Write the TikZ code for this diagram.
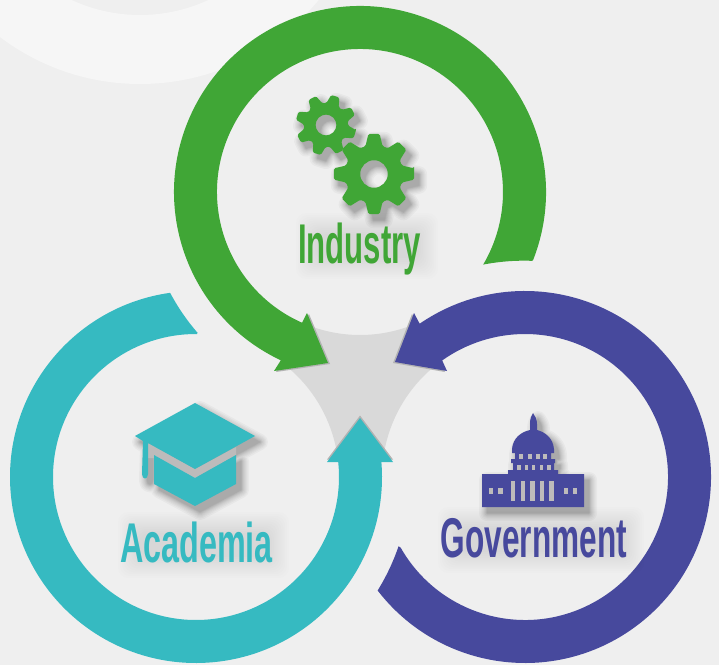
\documentclass[tikz,border=0pt]{standalone}
\usepackage{fontspec}
\setmainfont{Liberation Sans}
\newfontfamily\labI[FakeStretch=0.556]{Liberation Sans Bold}
\newfontfamily\labA[FakeStretch=0.578]{Liberation Sans Bold}
\newfontfamily\labG[FakeStretch=0.564]{Liberation Sans Bold}
\usetikzlibrary{calc}
\definecolor{bgc}{HTML}{EFEFEF}
\definecolor{bandc}{HTML}{F6F6F6}
\definecolor{greenc}{HTML}{40A636}
\definecolor{tealc}{HTML}{36BAC1}
\definecolor{bluec}{HTML}{47499D}
\definecolor{midc}{HTML}{D9D9D9}
\definecolor{edgec}{HTML}{B3B3B3}
\definecolor{winc}{HTML}{BDBBBB}
\tikzset{
  lab/.style={anchor=base,inner sep=0pt,font=\fontsize{56}{60}\selectfont},
  softshadow/.style={fill=black,draw=black,line join=round}
}
\newcommand{\softblob}[4]{%
  \foreach \g in {0,...,11}{%
    \fill[black,opacity=0.008,rounded corners=10pt]
      ({#1-10+1.9*\g},{#2-10+1.9*\g}) rectangle ({#3+10-1.9*\g},{#4+10-1.9*\g});
  }}
\newcommand{\gearp}[5]{%
  \path[#5] ($(#1,#2)+({#4+(-8)}:#3)$)
  \foreach \k in {0,...,7}{
     -- ($(#1,#2)+({#4+45*\k-8}:#3)$)
     -- ($(#1,#2)+({#4+45*\k+8}:#3)$)
     -- ($(#1,#2)+({#4+45*\k+17}:#3*0.72)$)
     -- ($(#1,#2)+({#4+45*\k+28}:#3*0.72)$)
  } -- cycle (#1,#2) circle ({#3*0.34});
}
\newcommand{\capitolp}[1]{%
  \path[#1] (482,474) -- (508,474) -- (508,470) -- (513,470) -- (513,463) -- (511,463) -- (511,459)
    -- (515,459) -- (515,453) -- (512,453) -- (512,449)
    .. controls (513,438) and (521,432) .. (530,430) -- (530,424)
    .. controls (530,419) and (531,416) .. (533,413)
    .. controls (535,416) and (537,419) .. (537,424) -- (537,430)
    .. controls (545,432) and (553,438) .. (554,449)
    -- (554,453) -- (551,453) -- (551,459) -- (555,459) -- (555,463) -- (554,463) -- (554,470)
    -- (558,470) -- (558,474) -- (584,474) -- (584,507) -- (482,507) -- cycle;
}
\newcommand{\capp}[1]{%
  \path[#1] (195,403) -- (255,436) -- (195,469) -- (148,443) -- (148,474)
     .. controls (148,480) and (142,480) .. (142,474) -- (143,441) -- (135,436) -- cycle;
  \path[#1] (154,455) -- (195,478) -- (236,455) -- (236,484) -- (195,506) -- (154,484) -- cycle;
}
\begin{document}
\begin{tikzpicture}[x=1pt,y=1pt]
\useasboundingbox (0,0) rectangle (719,665);
\fill[bgc] (0,0) rectangle (719,665);
\coordinate (G) at (360,473);
\coordinate (T) at (196,188);
\coordinate (B) at (525,188);
\begin{scope}
  \clip (0,0) rectangle (719,665);
  \fill[bandc,even odd rule] (140,813) circle (232) (140,813) circle (163);
\end{scope}
% centre
\fill[midc] ($(G)+(248:143)$) arc[start angle=248,end angle=292,radius=143pt]
  -- ($(B)+(129:143)$) arc[start angle=129,end angle=172,radius=143pt]
  -- ($(T)+(8:143)$) arc[start angle=8,end angle=51,radius=143pt] -- cycle;
% tip edges
\fill[edgec] (330,301) -- (309,351) -- (276,293) -- cycle;
\fill[edgec] (393,302) -- (412,351) -- (445,293) -- cycle;
\fill[edgec] (360,249.5) -- (393,205.5) -- (327,205.5) -- cycle;
% green ring
\fill[greenc] ($(G)+(-21.5:186)$) arc[start angle=-21.5,end angle=244.8,radius=186pt]
  -- (274,294) -- (328,302) -- (307,352) -- ($(G)+(246.1:143)$)
  arc[start angle=246.1,end angle=-30.5,radius=143pt]
  arc[start angle=100.9,end angle=87.9,radius=216pt] -- cycle;
% blue ring
\fill[bluec] ($(B)+(124.5:186)$) arc[start angle=124.5,end angle=-142.4,radius=186pt]
  arc[start angle=-31.8,end angle=-18.8,radius=216pt]
  -- ($(B)+(-150.4:143)$)
  arc[start angle=-150.4,end angle=125.4,radius=143pt]
  -- (447,294) -- (395,303) -- (414,352) -- cycle;
% teal ring
\fill[tealc] ($(T)+(4.6:186)$) arc[start angle=4.6,end angle=-262,radius=186pt]
  arc[start angle=208,end angle=220.9,radius=216pt]
  -- ($(T)+(-270.4:143)$) arc[start angle=-270.4,end angle=6,radius=143pt]
  -- (339,203) -- (327,203) -- (360,247) -- (393,203) -- (382,203) -- cycle;
% soft shadows behind the words
\softblob{306}{396}{428}{442}
\softblob{128}{97}{279}{143}
\softblob{448}{102}{634}{148}
% icons, drawn with y pointing down
\begin{scope}[shift={(0,665)},yscale=-1]
  \begin{scope}[shift={(5,6)}]
  \foreach \w in {16,13,10.5,8.5,6.5,5,3.5,2.2,1,0.2}{
    \begin{scope}[transparency group,opacity=0.03]
      \gearp{326}{125}{30.5}{18}{softshadow,even odd rule,line width=\w pt}
      \gearp{374}{174}{40.5}{0}{softshadow,even odd rule,line width=\w pt}
      \capitolp{softshadow,line width=\w pt}
      \capp{softshadow,line width=\w pt}
    \end{scope}
  }
  \end{scope}
  \gearp{326}{125}{30.5}{18}{fill=greenc,even odd rule,rounded corners=1.5pt}
  \gearp{374}{174}{40.5}{0}{fill=greenc,even odd rule,rounded corners=1.5pt}
  % cap
  \fill[winc] (148,443) -- (195,469) -- (236,447) -- (236,455) -- (195,478) -- (154,455) -- (154,458) -- (148,458) -- cycle;
  \capp{fill=tealc}
  % capitol
  \capitolp{fill=bluec}
  \foreach \a/\b in {519/523,527.5/531.5,535.5/539.5,543/547}{
    \fill[winc] (\a,453.5) rectangle (\b,459);}
  \foreach \a/\b in {517/520.5,524.5/528,531.5/535,539.5/543,547/550.5}{
    \fill[winc] (\a,464.5) rectangle (\b,470);}
  \foreach \a/\b in {511/515,520.5/524.5,530/534.5,539.5/544,549/553.7}{
    \fill[winc] (\a,481) rectangle (\b,501);}
  \foreach \a/\b in {489.3/493.3,498.3/502.7,563.7/567.7,572.7/577}{
    \fill[winc] (\a,488.3) rectangle (\b,494.3);}
\end{scope}
% labels
\node[lab,text=greenc] (industry) at (359.5,402) {\labI Industry};
\node[lab,text=tealc] (academia) at (196.5,103) {\labA Academia};
\node[lab,text=bluec] (government) at (534,108) {\labG Government};
\end{tikzpicture}
\end{document}
